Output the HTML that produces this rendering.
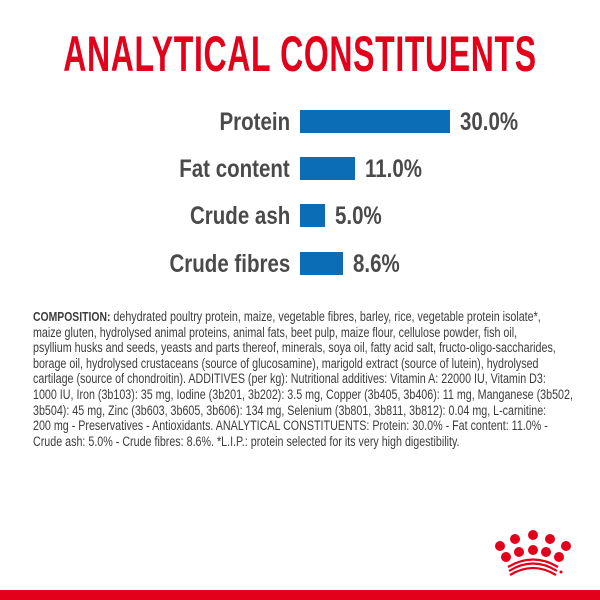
<!DOCTYPE html>
<html><head><style>
body{margin:0;width:600px;height:600px;background:#fff;position:relative;overflow:hidden;font-family:"Liberation Sans",sans-serif}
.t{position:absolute;left:300px;top:25px;transform:translateX(-50%) scaleX(0.64);white-space:nowrap;font-weight:bold;font-size:50px;color:#e3001b;letter-spacing:1px}
.lab{position:absolute;right:310px;white-space:nowrap;font-weight:bold;font-size:25px;color:#4a4a4a;transform:scaleX(0.82);transform-origin:right center}
.val{position:absolute;left:460px;white-space:nowrap;font-weight:bold;font-size:25px;color:#4a4a4a;transform:scaleX(0.82);transform-origin:left center}
.bar{position:absolute;left:300px;height:23px;background:#0a6db5}
.comp{position:absolute;left:33px;top:309px;font-size:13.4px;line-height:15.6px;color:#3c3c3c;transform:scaleX(0.8);transform-origin:left top;white-space:nowrap}
.comp b{font-size:13px}
</style></head><body>
<div class="t">ANALYTICAL CONSTITUENTS</div>
<div class="lab" style="top:108px">Protein</div><div class="bar" style="top:110px;width:150px"></div><div class="val" style="top:108px;left:460px">30.0%</div>
<div class="lab" style="top:155px">Fat content</div><div class="bar" style="top:157px;width:55px"></div><div class="val" style="top:155px;left:365px">11.0%</div>
<div class="lab" style="top:202px">Crude ash</div><div class="bar" style="top:204px;width:25px"></div><div class="val" style="top:202px;left:335px">5.0%</div>
<div class="lab" style="top:250px">Crude fibres</div><div class="bar" style="top:252px;width:43px"></div><div class="val" style="top:250px;left:353px">8.6%</div>
<div class="comp">
<div><b>COMPOSITION:</b> dehydrated poultry protein, maize, vegetable fibres, barley, rice, vegetable protein isolate*,</div>
<div>maize gluten, hydrolysed animal proteins, animal fats, beet pulp, maize flour, cellulose powder, fish oil,</div>
<div>psyllium husks and seeds, yeasts and parts thereof, minerals, soya oil, fatty acid salt, fructo-oligo-saccharides,</div>
<div>borage oil, hydrolysed crustaceans (source of glucosamine), marigold extract (source of lutein), hydrolysed</div>
<div>cartilage (source of chondroitin). ADDITIVES (per kg): Nutritional additives: Vitamin A: 22000 IU, Vitamin D3:</div>
<div>1000 IU, Iron (3b103): 35 mg, Iodine (3b201, 3b202): 3.5 mg, Copper (3b405, 3b406): 11 mg, Manganese (3b502,</div>
<div>3b504): 45 mg, Zinc (3b603, 3b605, 3b606): 134 mg, Selenium (3b801, 3b811, 3b812): 0.04 mg, L-carnitine:</div>
<div>200 mg - Preservatives - Antioxidants. ANALYTICAL CONSTITUENTS: Protein: 30.0% - Fat content: 11.0% -</div>
<div>Crude ash: 5.0% - Crude fibres: 8.6%. *L.I.P.: protein selected for its very high digestibility.</div>
</div>
<svg style="position:absolute;left:0;top:0" width="600" height="600">
<g fill="#e3001b">
<circle cx="500" cy="546" r="5"/><circle cx="515" cy="539" r="5"/><circle cx="533" cy="535" r="5"/><circle cx="550" cy="539" r="5"/><circle cx="566" cy="546" r="5"/>
<circle cx="506" cy="557" r="5"/><circle cx="519" cy="552" r="5"/><circle cx="533" cy="550" r="5"/><circle cx="546" cy="552" r="5"/><circle cx="559" cy="557" r="5"/>
<circle cx="561" cy="572" r="1.5"/>
<rect x="0" y="590" width="600" height="10"/>
</g>
<g fill="none" stroke="#e3001b" stroke-width="2.2">
<path d="M509 571 Q533 556 557 571"/><path d="M508 567 Q533 552 558 567"/><path d="M510 575 Q533 561 556 575"/>
</g>
</svg>
</body></html>
